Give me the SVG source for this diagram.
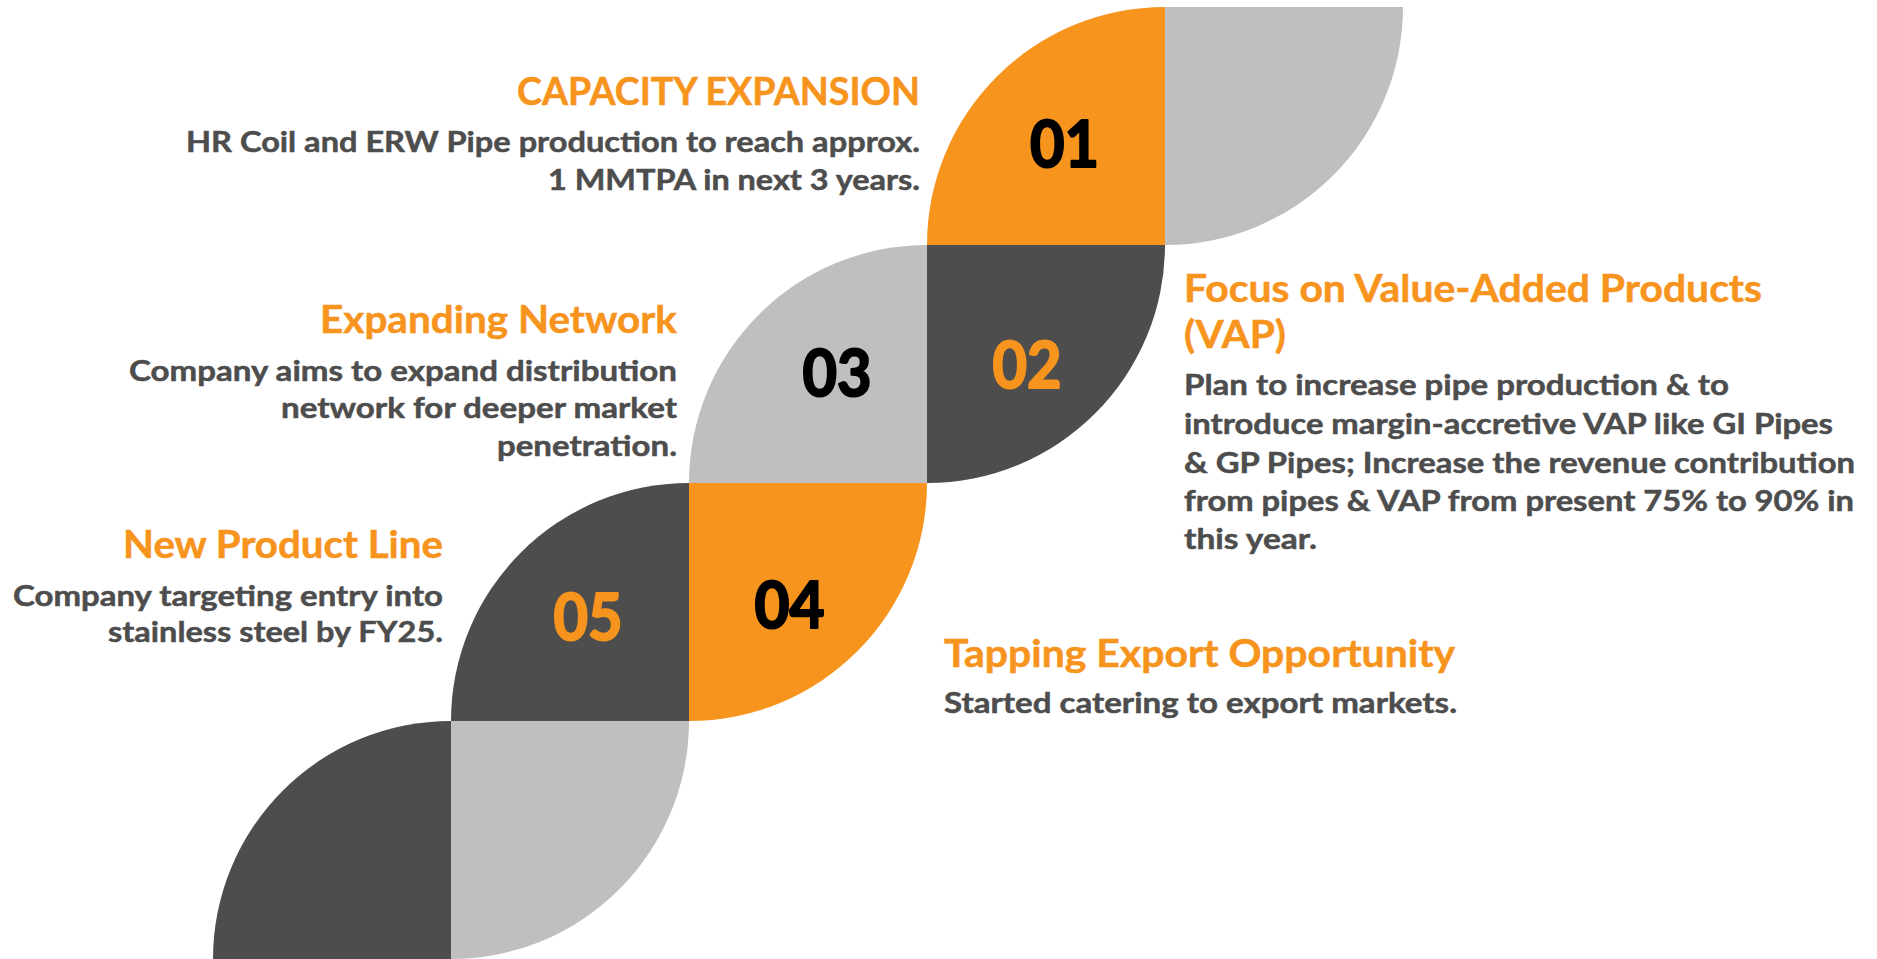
<svg xmlns="http://www.w3.org/2000/svg" width="1877" height="959" viewBox="0 0 1877 959">
<style>
.o{fill:#F7941D}
.d{fill:#4D4D4D}
.g{fill:#BFBFBF}
text{font-family:Lato,"Open Sans","Liberation Sans",sans-serif;font-weight:700}
.h{font-size:38px;fill:#F7941D;stroke:#F7941D;stroke-width:0.5px}
.b{font-size:29px;fill:#4D4D4D;stroke:#4D4D4D;stroke-width:0.5px}
.n{font-size:65px;text-anchor:middle;stroke-width:2.2px;stroke-linejoin:round}
.k{fill:#000000;stroke:#000000}
.no{fill:#F7941D;stroke:#F7941D}
.r{text-anchor:end}
</style>
<rect width="1877" height="959" fill="#FFFFFF"/>
<g id="shapes">
<g id="node-01"><path class="o" d="M1165,245 H927 A238,238 0 0 1 1165,7 Z"/><text class="n k" x="1064.5" y="167" textLength="69" lengthAdjust="spacingAndGlyphs">01</text></g>
<g id="node-01-right"><path class="g" d="M1165,7 H1403 A238,238 0 0 1 1165,245 Z"/></g>
<g id="node-03"><path class="g" d="M927,483 H689 A238,238 0 0 1 927,245 Z"/><text class="n k" x="837" y="396" textLength="69" lengthAdjust="spacingAndGlyphs">03</text></g>
<g id="node-02"><path class="d" d="M927,245 H1165 A238,238 0 0 1 927,483 Z"/><text class="n no" x="1027" y="388" textLength="69" lengthAdjust="spacingAndGlyphs">02</text></g>
<g id="node-05"><path class="d" d="M689,721 H451 A238,238 0 0 1 689,483 Z"/><text class="n no" x="588" y="640" textLength="69" lengthAdjust="spacingAndGlyphs">05</text></g>
<g id="node-04"><path class="o" d="M689,483 H927 A238,238 0 0 1 689,721 Z"/><text class="n k" x="789.5" y="628" textLength="70" lengthAdjust="spacingAndGlyphs">04</text></g>
<g id="node-bottom-left"><path class="d" d="M451,959 H213 A238,238 0 0 1 451,721 Z"/></g>
<g id="node-bottom-right"><path class="g" d="M451,721 H689 A238,238 0 0 1 451,959 Z"/></g>
</g>
<g id="connectors"></g>
<g id="text-01">
<text class="h r" x="920" y="105" textLength="403" lengthAdjust="spacingAndGlyphs">CAPACITY EXPANSION</text>
<text class="b r" x="920" y="152" textLength="734" lengthAdjust="spacingAndGlyphs">HR Coil and ERW Pipe production to reach approx.</text>
<text class="b r" x="920" y="190" textLength="372" lengthAdjust="spacingAndGlyphs">1 MMTPA in next 3 years.</text>
</g>
<g id="text-02">
<text class="h" x="1184" y="302" textLength="578" lengthAdjust="spacingAndGlyphs">Focus on Value-Added Products</text>
<text class="h" x="1184" y="348" textLength="102" lengthAdjust="spacingAndGlyphs">(VAP)</text>
<text class="b" x="1184" y="395" textLength="545" lengthAdjust="spacingAndGlyphs">Plan to increase pipe production &amp; to</text>
<text class="b" x="1184" y="434" textLength="649" lengthAdjust="spacingAndGlyphs">introduce margin-accretive VAP like GI Pipes</text>
<text class="b" x="1184" y="473" textLength="671" lengthAdjust="spacingAndGlyphs">&amp; GP Pipes; Increase the revenue contribution</text>
<text class="b" x="1184" y="511" textLength="670" lengthAdjust="spacingAndGlyphs">from pipes &amp; VAP from present 75% to 90% in</text>
<text class="b" x="1184" y="549" textLength="133" lengthAdjust="spacingAndGlyphs">this year.</text>
</g>
<g id="text-03">
<text class="h r" x="677" y="333" textLength="357" lengthAdjust="spacingAndGlyphs">Expanding Network</text>
<text class="b r" x="677" y="381" textLength="548" lengthAdjust="spacingAndGlyphs">Company aims to expand distribution</text>
<text class="b r" x="677" y="418" textLength="396" lengthAdjust="spacingAndGlyphs">network for deeper market</text>
<text class="b r" x="677" y="456" textLength="180" lengthAdjust="spacingAndGlyphs">penetration.</text>
</g>
<g id="text-04">
<text class="h" x="944" y="667" textLength="511" lengthAdjust="spacingAndGlyphs">Tapping Export Opportunity</text>
<text class="b" x="944" y="713" textLength="513" lengthAdjust="spacingAndGlyphs">Started catering to export markets.</text>
</g>
<g id="text-05">
<text class="h r" x="443" y="558" textLength="320" lengthAdjust="spacingAndGlyphs">New Product Line</text>
<text class="b r" x="443" y="606" textLength="430" lengthAdjust="spacingAndGlyphs">Company targeting entry into</text>
<text class="b r" x="443" y="642" textLength="335" lengthAdjust="spacingAndGlyphs">stainless steel by FY25.</text>
</g>
</svg>
